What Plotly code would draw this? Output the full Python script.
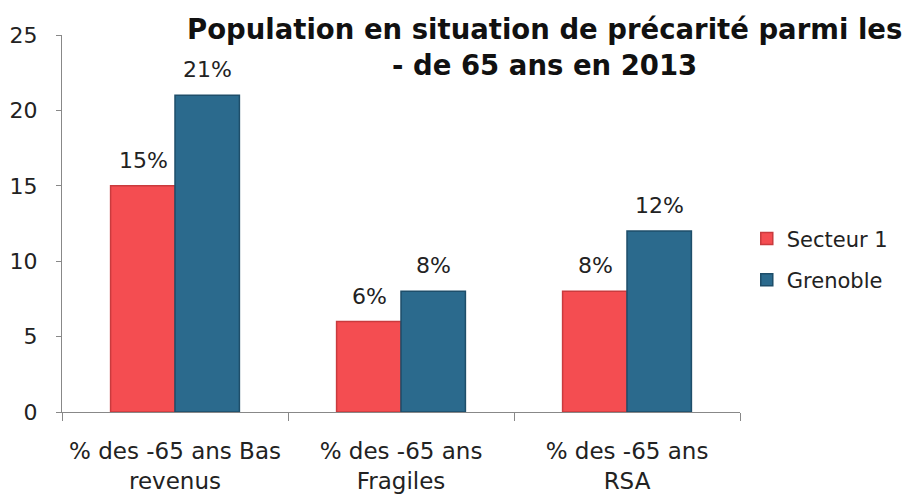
import plotly.graph_objects as go

categories = ["% des -65 ans Bas<br>revenus", "% des -65 ans<br>Fragiles", "% des -65 ans<br>RSA"]
secteur1 = [15, 6, 8]
grenoble = [21, 8, 12]
series_names = ["Secteur 1", "Grenoble"]
title_text = "Population en situation de précarité parmi les<br>- de 65 ans en 2013"

font_main = "DejaVu Sans"
colors = ["#F44D51", "#2B6A8D"]
edges = ["#C93B3E", "#1E4E6A"]

fig = go.Figure()
for name, vals, col, edge, grp in zip(series_names, [secteur1, grenoble], colors, edges, ["a", "b"]):
    fig.add_bar(
        x=categories, y=vals, name=name, legendgroup=grp,
        marker=dict(color=col, line=dict(color=edge, width=1.5)),
    )

# data labels placed above each bar
for vals, shift in [(secteur1, -32), (grenoble, 32)]:
    for c, v in zip(categories, vals):
        fig.add_annotation(
            x=c, y=v, xref="x", yref="y", text=f"{v}%", showarrow=False,
            xshift=shift, yshift=11, yanchor="bottom",
            font=dict(size=22, family=font_main, color="#222222"),
        )

fig.add_annotation(
    x=(536 - 54) / 678, y=1 + 24 / 377, xref="paper", yref="paper",
    text=f"<b>{title_text}</b>", showarrow=False,
    xanchor="center", yanchor="top", align="center",
    font=dict(family=font_main, size=27.5, color="#111111"),
)

fig.update_layout(
    width=907, height=486,
    margin=dict(l=54, r=175, t=27, b=82),
    paper_bgcolor="white", plot_bgcolor="white",
    barmode="group", bargap=0.43, bargroupgap=0,
    font=dict(family=font_main, size=19, color="#222222"),
    legend=dict(
        x=1.01, y=0.405, xanchor="left", yanchor="middle",
        font=dict(size=21, family=font_main, color="#222222"),
        tracegroupgap=11, itemwidth=30, traceorder="grouped",
    ),
    showlegend=True,
)
fig.update_yaxes(
    range=[0, 25], dtick=5, showgrid=False, zeroline=False,
    showline=True, linecolor="#888888", linewidth=1,
    ticks="outside", ticklen=5, tickcolor="#888888",
    tickfont=dict(size=22, family=font_main, color="#222222"),
    ticklabelstandoff=14, automargin=False,
)
fig.update_xaxes(
    showgrid=False, showline=True, linecolor="#888888", linewidth=1,
    ticks="outside", ticklen=8, tickcolor="#888888", tickson="boundaries",
    tickfont=dict(size=23, family=font_main, color="#222222"),
    ticklabelstandoff=18, automargin=False,
)

fig.write_html("out.html")
